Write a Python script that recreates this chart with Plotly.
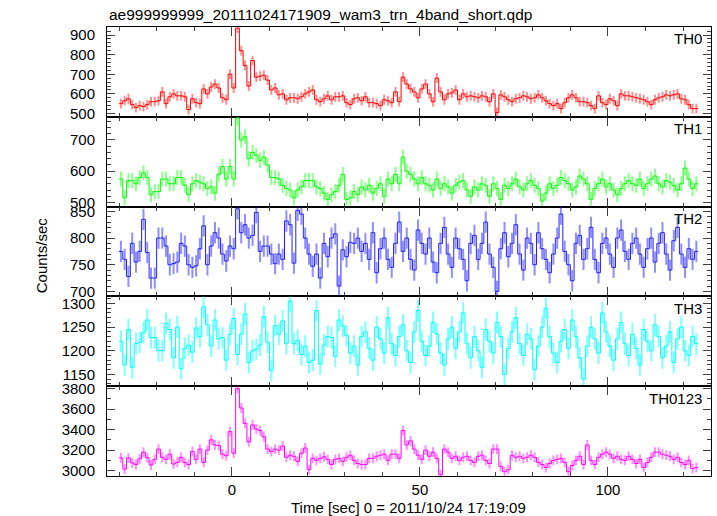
import numpy as np
import plotly.graph_objects as go
from plotly.subplots import make_subplots

# ---------------- data ----------------
TITLE = "ae999999999_20111024171909_wam3_trn_4band_short.qdp"
X_TITLE = "Time [sec] 0 = 2011/10/24 17:19:09"
Y_TITLE = "Counts/sec"

T_START = -30.0      # start of the first time bin [sec]
BIN_WIDTH = 1.0      # bin width [sec]

TH0 = [550, 565, 575, 545, 530, 540, 535, 545, 560, 560,
       565, 610, 550, 585, 600, 590, 590, 585, 520, 575,
       555, 550, 625, 600, 635, 650, 630, 580, 570, 700,
       630, 935, 820, 745, 640, 770, 685, 690, 695, 670,
       620, 630, 595, 600, 570, 580, 580, 575, 585, 600,
       610, 620, 570, 560, 575, 590, 570, 585, 585, 590,
       555, 545, 575, 580, 565,
       585, 555, 555, 550, 540, 570, 565, 555, 610, 560,
       685, 650, 625, 610, 580, 625, 650, 600, 560, 680,
       610, 570, 600, 605, 620, 570, 600, 585, 590, 585,
       580, 590, 585, 560, 600, 505, 595, 585, 570, 560,
       575, 580, 590, 585, 575, 580, 595, 580, 565, 550,
       540, 550, 525, 555, 580, 595, 580, 560, 560, 555,
       540, 525, 590, 555, 545, 575, 565, 540, 600, 590,
       590, 585, 580, 575, 570, 560, 545, 570, 580, 585,
       595, 590, 595, 600, 575, 570, 545, 525, 525]

TH1 = [575, 515, 570, 570, 560, 580, 595, 580, 525, 535,
       535, 575, 575, 560, 560, 580, 580, 555, 525, 560,
       570, 565, 560, 545, 550, 530, 590, 615, 575, 615,
       575, 770, 700, 710, 640, 660, 650, 635, 645, 620,
       580, 580, 575, 555, 545, 540, 515, 540, 550, 570,
       570, 570, 550, 545, 530, 510, 525, 535, 555, 590,
       510, 515, 535, 525, 550,
       540, 555, 530, 545, 560, 520, 575, 560, 590, 560,
       645, 600, 590, 575, 560, 580, 560, 555, 540, 575,
       545, 560, 550, 530, 555, 565, 570, 540, 520, 550,
       540, 560, 555, 520, 560, 545, 510, 555, 545, 560,
       575, 550, 540, 560, 570, 555, 545, 505, 530, 560,
       545, 555, 580, 570, 560, 540, 550, 585, 575, 560,
       510, 545, 560, 575, 550, 560, 540, 525, 545, 560,
       570, 560, 555, 575, 545, 560, 575, 585, 560, 550,
       570, 565, 555, 540, 560, 610, 575, 545, 560]

TH2 = [775, 760, 728, 790, 755, 775, 835, 773, 725, 725,
       800, 800, 785, 750, 752, 755, 790, 785, 750, 745,
       748, 780, 823, 750, 785, 810, 800, 770, 757, 785,
       780, 855, 810, 825, 800, 805, 848, 775, 785, 785,
       770, 752, 770, 760, 832, 825, 753, 852, 845, 800,
       770, 747, 770, 725, 790, 765, 800, 808, 710, 778,
       765, 792, 790, 800, 775,
       790, 760, 810, 735, 780, 800, 760, 745, 790, 830,
       775, 800, 760, 740, 815, 790, 770, 800, 755, 735,
       790, 820, 770, 745, 800, 780, 760, 720, 790, 805,
       760, 790, 830, 770, 745, 700, 780, 810, 765, 790,
       825, 770, 740, 800, 790, 750, 810, 780, 760, 735,
       770, 800, 845, 775, 750, 720, 790, 805, 760, 780,
       820, 760, 735, 790, 800, 770, 745, 800, 815, 775,
       760, 790, 800, 770, 745, 780, 800, 755, 790, 810,
       770, 740, 795, 820, 770, 745, 780, 760, 775]

TH3 = [1220, 1170, 1245, 1165, 1215, 1218, 1238, 1265, 1228, 1228,
       1200, 1200, 1258, 1245, 1185, 1250, 1162, 1205, 1212, 1197,
       1248, 1230, 1293, 1255, 1210, 1265, 1225, 1228, 1180, 1235,
       1268, 1192, 1235, 1278, 1175, 1200, 1203, 1212, 1272, 1218,
       1158, 1253, 1235, 1263, 1215, 1305, 1215, 1222, 1192, 1210,
       1175, 1180, 1285, 1172, 1212, 1230, 1228, 1188, 1265, 1252,
       1232, 1195, 1210, 1170, 1230,
       1240, 1205, 1180, 1250, 1225, 1195, 1270, 1215, 1190, 1230,
       1255, 1200, 1175, 1240, 1285, 1220, 1190, 1210, 1260, 1235,
       1195, 1170, 1225, 1250, 1205, 1240, 1280, 1215, 1185, 1230,
       1200, 1165, 1245, 1220, 1195, 1260, 1230, 1150, 1205, 1240,
       1270, 1215, 1190, 1235, 1225, 1160, 1210, 1250, 1290, 1230,
       1195, 1175, 1220, 1245, 1205, 1265, 1230, 1185, 1140, 1210,
       1250, 1225, 1195, 1280, 1240, 1210, 1180, 1225, 1260, 1215,
       1190, 1235, 1205, 1170, 1245, 1220, 1200, 1255, 1230, 1185,
       1210, 1240, 1175, 1225, 1250, 1200, 1190, 1230, 1215]

TH0123 = [3125, 3015, 3125, 3075, 3060, 3115, 3180, 3125, 3055, 3110,
          3210, 3130, 3110, 3160, 3065, 3080, 3130, 3080, 3060, 3185,
          3110, 3210, 3080, 3200, 3300, 3250, 3245, 3160, 3145, 3380,
          3170, 3800, 3610, 3460, 3280, 3445, 3405, 3390, 3330, 3210,
          3185, 3210, 3200, 3240, 3130, 3150, 3140, 3090, 3170, 3220,
          3010, 3120, 3100, 3120, 3135, 3110, 3060, 3110, 3120, 3090,
          3130, 3150, 3100, 3070,
          3060, 3060, 3120, 3120, 3140, 3150, 3160, 3100, 3160, 3160,
          3120, 3390, 3250, 3290, 3210, 3150, 3110, 3200, 3140, 3180,
          3120, 2960, 3210, 3180, 3120, 3140, 3100, 3130, 3140, 3100,
          3080, 3140, 3150, 3100, 3070, 3210, 3210, 3040, 2990, 3010,
          3150, 3130, 3140, 3120, 3130, 3150, 3130, 3080, 3060, 3030,
          3070, 3100, 3110, 3120, 3080, 2990, 3050, 3100, 3140, 3060,
          3250, 3100, 3060, 3130, 3160, 3180, 3160, 3120, 3140, 3110,
          3100, 3140, 3110, 3070, 3110, 3030, 3080, 3130, 3180, 3180,
          3160, 3150, 3140, 3110, 3130, 3080, 3060, 3100, 3020, 3030]

# typical 1-sigma error bar half-length per band (counts/sec)
ERRORS = {"TH0": 25, "TH1": 24, "TH2": 20, "TH3": 23, "TH0123": 48}

LABELS = ["TH0", "TH1", "TH2", "TH3", "TH0123"]
SERIES = [TH0, TH1, TH2, TH3, TH0123]
COLORS = ["#ff0000", "#00ff00", "#2020ff", "#00ffff", "#ff00ff"]
ERR_COLORS = ["rgba(255,0,0,0.45)", "rgba(0,255,0,0.45)", "rgba(32,32,255,0.5)",
              "rgba(0,255,255,0.5)", "rgba(255,0,255,0.45)"]
Y_RANGES = [[483, 941], [487, 774], [690.6, 859], [1125, 1315], [2948, 3822]]
Y_DTICK = [100, 100, 50, 50, 200]
Y_MINOR = [20, 20, 10, 10, 100]
X_RANGE = [-33.2, 127.4]

# ---------------- figure ----------------
fig = make_subplots(rows=5, cols=1, shared_xaxes=True, vertical_spacing=0)
FONT = "Liberation Sans, Arial, Helvetica, sans-serif"

for i, (lab, vals) in enumerate(zip(LABELS, SERIES)):
    row = i + 1
    n = len(vals)
    edges = T_START + BIN_WIDTH * np.arange(n + 1)
    centers = edges[:-1] + BIN_WIDTH / 2.0
    fig.add_trace(go.Scatter(
        x=centers, y=vals, mode="markers",
        marker=dict(size=1, color="rgba(0,0,0,0)"),
        error_y=dict(type="constant", value=ERRORS[lab], color=ERR_COLORS[i],
                     thickness=2, width=0),
        hoverinfo="skip", showlegend=False), row=row, col=1)
    fig.add_trace(go.Scatter(
        x=edges, y=list(vals) + [vals[-1]], mode="lines",
        line=dict(shape="hv", color=COLORS[i], width=1),
        showlegend=False, name=lab), row=row, col=1)

    fig.update_yaxes(row=row, col=1, range=Y_RANGES[i], dtick=Y_DTICK[i],
                     tick0=0, ticks="inside", ticklen=8, tickwidth=1,
                     tickcolor="#404040", showline=True, linecolor="black",
                     linewidth=1, mirror="ticks", showgrid=False, zeroline=False,
                     ticklabelstandoff=8,
                     tickfont=dict(size=15, color="black", family=FONT),
                     minor=dict(dtick=Y_MINOR[i], ticks="inside", ticklen=4,
                                tickcolor="#404040", showgrid=False))
    fig.update_xaxes(row=row, col=1, range=X_RANGE, tick0=0, dtick=50,
                     ticks="inside", ticklen=9, tickwidth=1, tickcolor="#404040",
                     showline=True, linecolor="black", linewidth=1,
                     mirror="ticks", showgrid=False, zeroline=False,
                     showticklabels=(row == 5), ticklabelstandoff=0,
                     tickfont=dict(size=15, color="black", family=FONT),
                     minor=dict(dtick=10, ticks="inside", ticklen=4,
                                tickcolor="#404040", showgrid=False))

    sfx = "" if row == 1 else str(row)
    fig.add_annotation(text=lab, xref=f"x{sfx} domain", yref=f"y{sfx} domain",
                       x=0.988, y=0.985, xanchor="right", yanchor="top",
                       showarrow=False,
                       font=dict(size=15, color="black", family=FONT))

fig.add_annotation(text=TITLE, xref="paper", yref="paper", x=0, y=1,
                   xanchor="left", yanchor="bottom", yshift=2, showarrow=False,
                   font=dict(size=15.5, color="black", family=FONT))
fig.add_annotation(text=X_TITLE, xref="paper", yref="paper", x=0.499, y=-0.071,
                   xanchor="center", yanchor="middle", showarrow=False,
                   font=dict(size=15, color="black", family=FONT))
fig.add_annotation(text=Y_TITLE, xref="paper", yref="paper", x=-0.109, y=0.492,
                   xanchor="center", yanchor="middle", textangle=-90,
                   showarrow=False,
                   font=dict(size=15, color="black", family=FONT))

fig.update_layout(width=717, height=516,
                  margin=dict(l=107, r=5.5, t=27, b=40),
                  plot_bgcolor="white", paper_bgcolor="white",
                  showlegend=False)

fig.write_html("out.html",
               config={"displayModeBar": False},
               post_script="document.body.style.margin='0';"
                           "document.body.style.overflow='hidden';")
